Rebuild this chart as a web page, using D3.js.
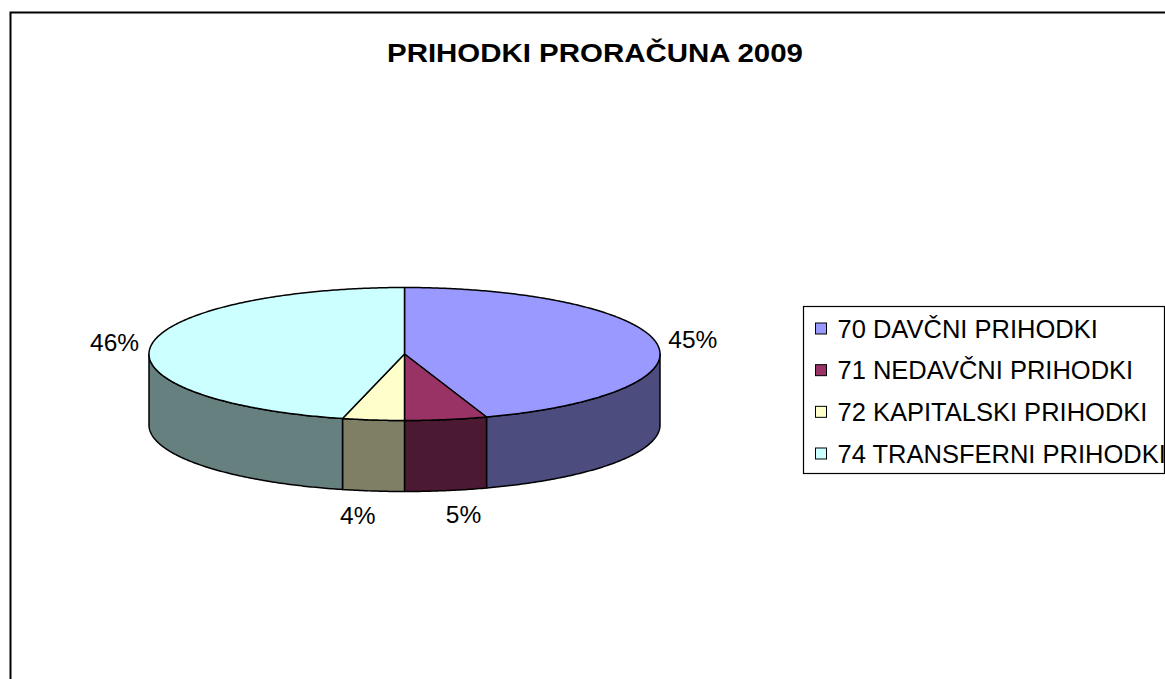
<!DOCTYPE html>
<html lang="en">
<head>
    <meta charset="UTF-8">
    <title>Prihodki proračuna 2009</title>
    <style>
        body { margin: 0; background: #fff; }
        text { font-family: "Liberation Sans", Arial, sans-serif; }
    </style>
</head>
<body>
<svg width="1165" height="679"></svg>

<script src="https://cdnjs.cloudflare.com/ajax/libs/d3/7.8.5/d3.min.js"></script>
<script>

    // shares of the 2009 budget revenue, percent
    var categories = ["70 DAVČNI PRIHODKI", "71 NEDAVČNI PRIHODKI", "72 KAPITALSKI PRIHODKI", "74 TRANSFERNI PRIHODKI"];
    var shares = [44.8, 5.2, 3.9, 46.1];
    var topColors = ["#9999ff", "#993366", "#ffffcc", "#ccffff"];
    var sideColors = ["#4c4c7f", "#4c1933", "#7f7f66", "#667f7f"];
    var chartTitle = "PRIHODKI PRORAČUNA 2009";

    var svg = d3.select("svg");

    // chart area frame (runs off the right and bottom of the picture)
    svg.append("rect")
        .attr("x", 10.5).attr("y", 12.5)
        .attr("width", 1200).attr("height", 700)
        .attr("fill", "#fff")
        .attr("stroke", "#000")
        .attr("stroke-width", 2);

    svg.append("text")
        .attr("x", 595).attr("y", 62)
        .attr("text-anchor", "middle")
        .attr("font-size", 26)
        .attr("font-weight", "bold")
        .attr("textLength", 416)
        .attr("lengthAdjust", "spacingAndGlyphs")
        .text(chartTitle);

    var cx = 404.5, cy = 354, rx = 255.5, ry = 66.5, depth = 71;

    var pie = d3.pie().sort(null).value(function(d) { return d; });
    var arcs = pie(shares);

    var ellipse = d3.line()
        .x(function(a) { return cx + rx * Math.sin(a[0]); })
        .y(function(a) { return cy - ry * Math.cos(a[0]) + a[1]; });

    function sweep(a0, a1, dy) {
        var n = Math.max(2, Math.ceil(Math.abs(a1 - a0) / 0.01));
        return d3.range(n + 1).map(function(i) { return [a0 + (a1 - a0) * i / n, dy]; });
    }

    var pieG = svg.append("g");

    // outer walls, only the front half shows
    arcs.forEach(function(d, i) {
        var s = Math.max(d.startAngle, Math.PI / 2);
        var e = Math.min(d.endAngle, Math.PI * 3 / 2);
        if (e <= s) return;
        var pts = sweep(s, e, 0).concat(sweep(e, s, depth));
        pieG.append("path")
            .attr("d", ellipse(pts) + "Z")
            .attr("fill", sideColors[i])
            .attr("stroke", "#000")
            .attr("stroke-width", 1.5)
            .attr("stroke-linejoin", "round");
    });

    // top faces
    arcs.forEach(function(d, i) {
        var p = sweep(d.startAngle, d.endAngle, 0);
        pieG.append("path")
            .attr("d", "M" + cx + "," + cy + "L" + ellipse(p).slice(1) + "Z")
            .attr("fill", topColors[i])
            .attr("stroke", "#000")
            .attr("stroke-width", 1.5)
            .attr("stroke-linejoin", "round");
    });

    // percentage labels
    var total = d3.sum(shares);
    arcs.forEach(function(d) {
        var mid = (d.startAngle + d.endAngle) / 2;
        var s = Math.sin(mid), c = Math.cos(mid);
        var gap = 12;
        var px = cx + (rx + gap) * s;
        var py = cy - (ry + gap + 4) * c + (c < 0 ? depth : 0);
        var w = 49, h = 17;
        var spread = c < 0 ? 0.6 : 0.5;
        var lx = px + Math.sign(s) * Math.pow(Math.abs(s), 0.35) * w * spread;
        var ly = py - c * h / 2;
        svg.append("text")
            .attr("x", lx)
            .attr("y", ly + h / 2)
            .attr("text-anchor", "middle")
            .attr("font-size", 24.5)
            .text(Math.round(d.value / total * 100) + "%");
    });

    // legend
    var legend = svg.append("g").attr("transform", "translate(803.5,306.5)");
    legend.append("rect")
        .attr("width", 361).attr("height", 167)
        .attr("fill", "#fff")
        .attr("stroke", "#000")
        .attr("stroke-width", 1.2);

    var rowY = d3.scalePoint().domain(categories).range([22, 147]);

    var rows = legend.selectAll(".row")
        .data(categories)
        .enter().append("g")
        .attr("transform", function(d) { return "translate(0," + rowY(d) + ")"; });

    rows.append("rect")
        .attr("x", 12).attr("y", -5.5)
        .attr("width", 11).attr("height", 11)
        .attr("fill", function(d, i) { return topColors[i]; })
        .attr("stroke", "#000")
        .attr("stroke-width", 1);

    rows.append("text")
        .attr("x", 34).attr("y", 9)
        .attr("font-size", 25.5)
        .text(function(d) { return d; });
</script>
</body>
</html>
